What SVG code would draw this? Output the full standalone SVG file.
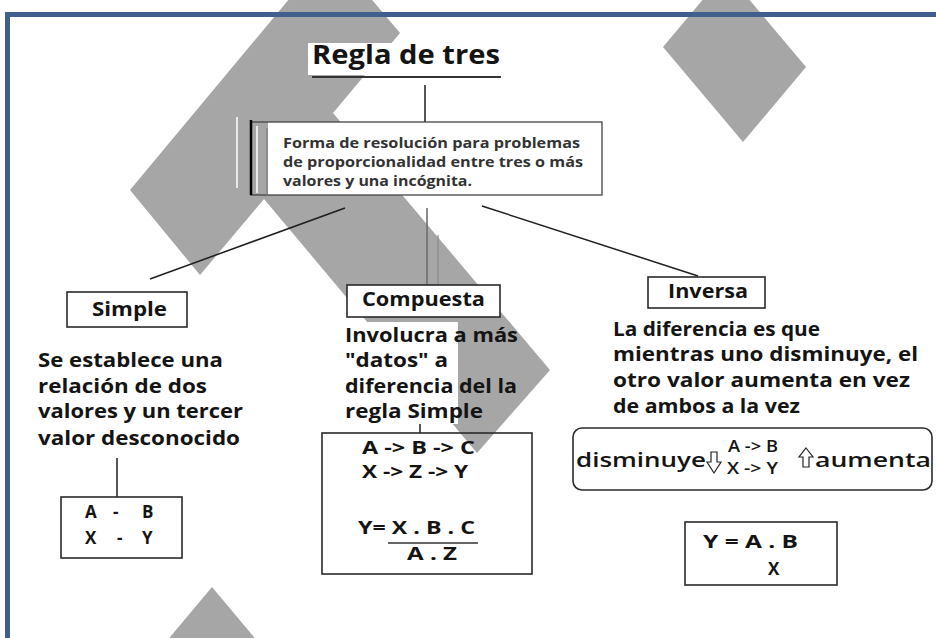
<svg xmlns="http://www.w3.org/2000/svg" width="936" height="638" viewBox="0 0 936 638">
<style>
  .wm { fill: #a6a6a6; }
  .t { font-family: "Open Sans", "Liberation Sans", sans-serif; font-weight: 700; fill: #141414; }
  .small { font-size: 13.5px; fill: #333; }
  .para { font-size: 19.5px; }
  .lbl { font-size: 19px; }
  .f { font-size: 17px; }
  .mid { font-weight: 600; }
  .box { fill: #fff; stroke: #2a2a2a; stroke-width: 1.6; }
  .open { fill: none; stroke: #2a2a2a; stroke-width: 1.6; }
  .ln { stroke: #1e1e1e; stroke-width: 1.5; fill: none; }
</style>
<rect x="0" y="0" width="936" height="638" fill="#fff"/>
<g id="watermark">
  <polygon class="wm" points="330,-50 400,33 333,113 550,370 477,453 264,199 200,275 130,190"/>
  <polygon class="wm" points="726,-28 806,67 743,142 663,47"/>
  <polygon class="wm" points="212,587 300,692 212,797 124,692"/>
</g>
<g id="frame">
  <line x1="5" y1="14.5" x2="936" y2="14.5" stroke="#3f5f8c" stroke-width="5"/>
  <line x1="7.5" y1="12" x2="7.5" y2="638" stroke="#3f5f8c" stroke-width="5"/>
</g>
<g id="connectors">
  <line class="ln" x1="425" y1="85" x2="425" y2="122"/>
  <line x1="427" y1="208" x2="427" y2="284" stroke="#6e6e6e" stroke-width="1.6"/>
  <line x1="438" y1="235" x2="438" y2="284" stroke="#8a8a8a" stroke-width="1.2"/>
  <line class="ln" x1="345" y1="208" x2="150" y2="279"/>
  <line class="ln" x1="482" y1="206" x2="698" y2="276"/>
  <line class="ln" x1="117" y1="458" x2="117" y2="497"/>
  <line class="ln" x1="420" y1="422" x2="420" y2="433"/>
</g>
<g id="title">
  <rect x="308" y="43" width="195" height="32" fill="#fff"/>
  <text class="t" x="312" y="64" font-size="27" textLength="188" lengthAdjust="spacingAndGlyphs" fill="#000">Regla de tres</text>
  <line x1="312" y1="77" x2="501" y2="77" stroke="#333" stroke-width="2"/>
</g>
<g id="definition">
  <rect x="268" y="122" width="334" height="73" fill="#fff"/>
  <rect x="251" y="122" width="351" height="73" fill="none" stroke="#444" stroke-width="1.3"/>
  <line x1="251" y1="120" x2="251" y2="195" stroke="#000" stroke-width="2.5"/>
  <line x1="237" y1="117" x2="237" y2="188" stroke="#fff" stroke-width="1.5"/>
  <line x1="257" y1="126" x2="257" y2="193" stroke="#fff" stroke-width="1.5"/>
  <line x1="267" y1="128" x2="267" y2="195" stroke="#777" stroke-width="1"/>
  <text class="t small" x="283" y="148" textLength="297" lengthAdjust="spacingAndGlyphs">Forma de resolución para problemas</text>
  <text class="t small" x="283" y="167" textLength="300" lengthAdjust="spacingAndGlyphs">de proporcionalidad entre tres o más</text>
  <text class="t small" x="283" y="186" textLength="189" lengthAdjust="spacingAndGlyphs">valores y una incógnita.</text>
</g>
<g id="simple">
  <rect class="box" x="67" y="292" width="120" height="35"/>
  <text class="t lbl" x="92" y="316" textLength="75" lengthAdjust="spacingAndGlyphs">Simple</text>
</g>
<g id="simple-text">
  <text class="t para" x="38" y="367" textLength="185" lengthAdjust="spacingAndGlyphs">Se establece una</text>
  <text class="t para" x="38" y="393" textLength="169" lengthAdjust="spacingAndGlyphs">relación de dos</text>
  <text class="t para" x="38" y="418" textLength="205" lengthAdjust="spacingAndGlyphs">valores y un tercer</text>
  <text class="t para" x="38" y="445" textLength="202" lengthAdjust="spacingAndGlyphs">valor desconocido</text>
</g>
<g id="simple-formula">
  <rect class="open" x="61" y="497" width="121" height="61"/>
  <text class="t f" x="85" y="518">A</text>
  <text class="t f" x="113" y="518">-</text>
  <text class="t f" x="142" y="518">B</text>
  <text class="t f" x="85" y="544">X</text>
  <text class="t f" x="117" y="544">-</text>
  <text class="t f" x="142" y="544">Y</text>
</g>
<g id="compuesta">
  <rect class="box" x="347" y="285" width="153" height="32"/>
  <text class="t lbl" x="362" y="306" textLength="123" lengthAdjust="spacingAndGlyphs">Compuesta</text>
</g>
<g id="compuesta-text">
  <rect x="343" y="322" width="115" height="102" fill="#fff"/>
  <text class="t para" x="345" y="342" textLength="173" lengthAdjust="spacingAndGlyphs">Involucra a más</text>
  <text class="t para" x="345" y="367" textLength="103" lengthAdjust="spacingAndGlyphs">"datos" a</text>
  <text class="t para" x="345" y="393" textLength="172" lengthAdjust="spacingAndGlyphs">diferencia del la</text>
  <text class="t para" x="345" y="418" textLength="138" lengthAdjust="spacingAndGlyphs">regla Simple</text>
</g>
<g id="compuesta-formula">
  <rect class="open" x="322" y="433" width="210" height="141"/>
  <text class="t f" x="362" y="454" textLength="113" lengthAdjust="spacingAndGlyphs">A -&gt; B -&gt; C</text>
  <text class="t f" x="362" y="478" textLength="106" lengthAdjust="spacingAndGlyphs">X -&gt; Z -&gt; Y</text>
  <text class="t f" x="358" y="534" textLength="117" lengthAdjust="spacingAndGlyphs">Y= X . B . C</text>
  <line x1="388" y1="543" x2="478" y2="543" stroke="#333" stroke-width="1.5"/>
  <text class="t f" x="407" y="560" textLength="50" lengthAdjust="spacingAndGlyphs">A . Z</text>
</g>
<g id="inversa">
  <rect class="box" x="648" y="277" width="117" height="31"/>
  <text class="t lbl" x="668" y="298" textLength="80" lengthAdjust="spacingAndGlyphs">Inversa</text>
</g>
<g id="inversa-text">
  <text class="t para" x="613" y="336" textLength="207" lengthAdjust="spacingAndGlyphs">La diferencia es que</text>
  <text class="t para" x="613" y="361" textLength="305" lengthAdjust="spacingAndGlyphs">mientras uno disminuye, el</text>
  <text class="t para" x="613" y="387" textLength="297" lengthAdjust="spacingAndGlyphs">otro valor aumenta en vez</text>
  <text class="t para" x="613" y="413" textLength="187" lengthAdjust="spacingAndGlyphs">de ambos a la vez</text>
</g>
<g id="inversa-relation">
  <rect x="573" y="428" width="359" height="62" rx="9" fill="none" stroke="#2a2a2a" stroke-width="1.6"/>
  <text class="t mid" x="576" y="467" font-size="20" textLength="130" lengthAdjust="spacingAndGlyphs">disminuye</text>
  <path d="M711,452 L717,452 L717,462 L721,462 L714,473 L707,462 L711,462 Z" fill="#fff" stroke="#222" stroke-width="1.2"/>
  <text class="t mid" x="728" y="452" font-size="17" textLength="50" lengthAdjust="spacingAndGlyphs">A -&gt; B</text>
  <text class="t mid" x="727" y="474" font-size="17" textLength="51" lengthAdjust="spacingAndGlyphs">X -&gt; Y</text>
  <path d="M806,448 L813,457 L809,457 L809,467 L803,467 L803,457 L799,457 Z" fill="#fff" stroke="#222" stroke-width="1.2"/>
  <text class="t mid" x="815" y="467" font-size="20" textLength="116" lengthAdjust="spacingAndGlyphs">aumenta</text>
</g>
<g id="inversa-formula">
  <rect class="open" x="685" y="522" width="152" height="63"/>
  <text class="t f" x="703" y="548" textLength="95" lengthAdjust="spacingAndGlyphs">Y = A . B</text>
  <text class="t f" x="768" y="575">X</text>
</g>
</svg>
